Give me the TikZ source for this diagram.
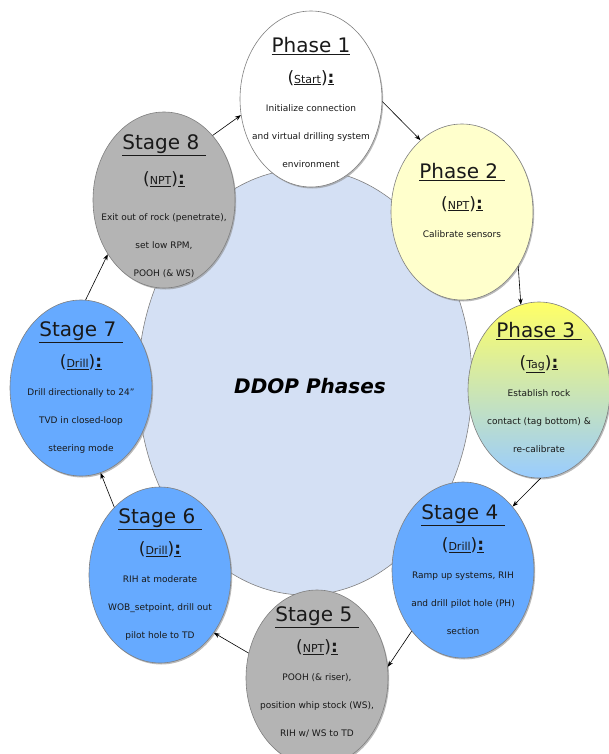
\documentclass[tikz,border=0pt]{standalone}
\usepackage{fontspec}
\setmainfont{DejaVu Sans}
\usetikzlibrary{arrows.meta,shapes.geometric,shadows}
\definecolor{hubcolor}{HTML}{D4E0F4}
\definecolor{nptyellow}{HTML}{FFFFCC}
\definecolor{tagtop}{HTML}{FFFF66}
\definecolor{tagbottom}{HTML}{99CCFF}
\definecolor{drillcolor}{HTML}{66AAFF}
\definecolor{nptcolor}{HTML}{B4B4B4}
\definecolor{rimcolor}{HTML}{7F7F7F}
\newcommand\ddoptitle[1]{{\fontsize{20}{20}\selectfont\underline{#1}}}
\newcommand\ddoptag[1]{{\fontsize{17}{17}\selectfont(\underline{\fontsize{11}{11}\selectfont #1})\underline{\textbf{:}}}}
\tikzset{
  ddop hub/.style={ellipse,draw=rimcolor,fill=hubcolor,line width=.6pt,minimum width=334pt,minimum height=426pt,inner sep=0pt},
  ddop ring/.style={ellipse,draw=rimcolor,line width=.6pt,minimum width=142pt,minimum height=176pt,inner sep=0pt,
    drop shadow={shadow xshift=1.2pt,shadow yshift=-1.5pt,fill=black!45,opacity=.6}},
  ddop text/.style={align=center,font=\fontsize{9}{28}\selectfont,text=black!90},
  ddop arrow/.style={black,line width=.6pt,-{Stealth[length=6pt,width=4.5pt]}}
}

\begin{document}
\begin{tikzpicture}[x=1pt,y=-1pt]
  \useasboundingbox (0,0) rectangle (609,754);
  \node[ddop hub] (hub) at (305,382) {};
  \node[font=\fontsize{20}{20}\selectfont\bfseries\itshape] (hubt) at (310,386) {DDOP Phases};
  % phases and stages round the hub
  \node[ddop ring,fill=white] (p1) at (311,99) {};
  \node[ddop ring,fill=nptyellow] (p2) at (462,212) {};
  \node[ddop ring,top color=tagtop,bottom color=tagbottom] (p3) at (539,390) {};
  \node[ddop ring,fill=drillcolor] (s4) at (463,570) {};
  \node[ddop ring,fill=nptcolor] (s5) at (317,678) {};
  \node[ddop ring,fill=drillcolor] (s6) at (160,575) {};
  \node[ddop ring,fill=drillcolor] (s7) at (81,388) {};
  \node[ddop ring,fill=nptcolor] (s8) at (164,200) {};
  \node[ddop text] (p1t) at (311,102) {\ddoptitle{Phase 1}\\[3pt]\ddoptag{Start}\\Initialize connection\\and virtual drilling system\\environment};
  \node[ddop text] (p2t) at (462,200) {\ddoptitle{Phase 2~}\\[3pt]\ddoptag{NPT}\\Calibrate sensors};
  \node[ddop text] (p3t) at (539,387) {\ddoptitle{Phase 3~}\\[3pt]\ddoptag{Tag}\\Establish rock\\contact (tag bottom) \&\\re-calibrate};
  \node[ddop text] (s4t) at (s4) {\ddoptitle{Stage 4~}\\[3pt]\ddoptag{Drill}\\Ramp up systems, RIH\\and drill pilot hole (PH)\\section};
  \node[ddop text] (s5t) at (317,672) {\ddoptitle{Stage 5~}\\[3pt]\ddoptag{NPT}\\POOH (\& riser),\\position whip stock (WS),\\RIH w/ WS to TD};
  \node[ddop text] (s6t) at (s6) {\ddoptitle{Stage 6~}\\[3pt]\ddoptag{Drill}\\RIH at moderate\\WOB\_setpoint, drill out\\pilot hole to TD};
  \node[ddop text] (s7t) at (s7) {\ddoptitle{Stage 7~}\\[3pt]\ddoptag{Drill}\\Drill directionally to 24''\\TVD in closed-loop\\steering mode};
  \node[ddop text] (s8t) at (164,206) {\ddoptitle{Stage 8~}\\[7pt]\ddoptag{NPT}\\[8pt]Exit out of rock (penetrate),\\set low RPM,\\POOH (\& WS)};
  % cycle
  \draw[ddop arrow] (p1.-2) -- (p2.120);
  \draw[ddop arrow] (p2.-44) -- (p3.102);
  \draw[ddop arrow] (p3.-89) -- (s4.52);
  \draw[ddop arrow] (s4.-130) -- (s5.9);
  \draw[ddop arrow] (s5.160) -- (s6.-47);
  \draw[ddop arrow] (s6.124) -- (s7.-77);
  \draw[ddop arrow] (s7.87) -- (s8.-136);
  \draw[ddop arrow] (s8.53) -- (p1.193);
\end{tikzpicture}
\end{document}
